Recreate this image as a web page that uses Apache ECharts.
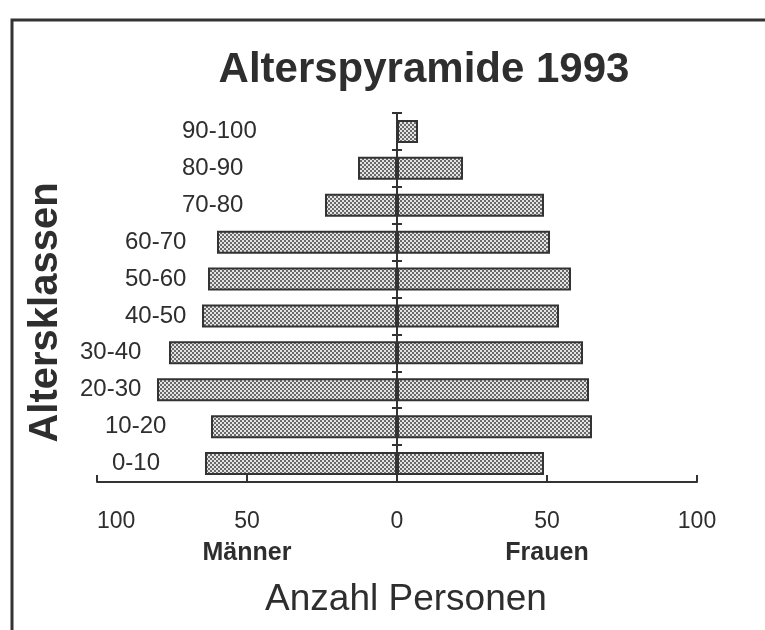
<!DOCTYPE html>
<html>
<head>
<meta charset="utf-8">
<title>Alterspyramide 1993</title>
<script src="https://cdn.jsdelivr.net/npm/echarts@6/dist/echarts.min.js"></script>
<style>
html, body { margin: 0; padding: 0; background: #fff; }
#main { width: 765px; height: 630px; }
</style>
</head>
<body>
<div id="main"></div>
<script>
// Altersklassen von unten nach oben
var altersklassen = ['0-10', '10-20', '20-30', '30-40', '40-50', '50-60', '60-70', '70-80', '80-90', '90-100'];
var maenner = [64, 62, 80, 76, 65, 63, 60, 24, 13, 0];
var frauen = [49, 65, 64, 62, 54, 58, 51, 49, 22, 7];
var seiten = ['Männer', 'Frauen'];

// Einrueckung der Klassenbeschriftung in px (reine Gestaltung)
var einzug = [32, 25, 0, 0, 45, 45, 45, 102, 102, 102];

var schrift = 'Liberation Sans';
var tinte = '#2e2e2e';

// Rasterfuellung wie im gedruckten Original
function raster() {
  var c = document.createElement('canvas');
  c.width = 4; c.height = 4;
  var ctx = c.getContext('2d');
  ctx.fillStyle = '#e4e4e4';
  ctx.fillRect(0, 0, 4, 4);
  ctx.fillStyle = '#6a6a6a';
  ctx.fillRect(0, 0, 2, 2);
  ctx.fillRect(2, 2, 2, 2);
  return c;
}
var muster = { image: raster(), repeat: 'repeat' };

var rich = {};
einzug.forEach(function (p, i) {
  rich['k' + i] = { padding: [0, 0, 0, p], fontSize: 24, fontFamily: schrift, color: tinte };
});

var linie = { color: '#333', width: 2 };

var mychart = echarts.init(document.getElementById('main'));

var option = {
  animation: false,
  title: {
    text: 'Alterspyramide 1993',
    left: 424,
    top: 49,
    padding: 0,
    textAlign: 'center',
    textStyle: { fontSize: 42, fontWeight: 'bold', color: tinte, fontFamily: schrift }
  },
  grid: { left: 97, right: 68, top: 113, bottom: 148, containLabel: false, outerBoundsMode: 'none' },
  graphic: [{
    type: 'polyline',
    shape: { points: [[12, 640], [12, 20], [770, 20]] },
    style: { stroke: '#333', lineWidth: 3, fill: null }
  }],
  xAxis: [{
    type: 'value',
    min: -100,
    max: 100,
    interval: 50,
    axisLine: { show: true, lineStyle: linie },
    axisTick: { show: true, inside: true, length: 7, lineStyle: linie },
    splitLine: { show: false },
    axisLabel: {
      margin: 28,
      fontSize: 23,
      color: tinte,
      fontFamily: schrift,
      alignMinLabel: 'left',
      formatter: function (v) { return Math.abs(v); }
    },
    name: 'Anzahl Personen',
    nameLocation: 'middle',
    nameGap: 99,
    nameTextStyle: { fontSize: 37, color: tinte, fontFamily: schrift, padding: [0, 0, 0, 18] }
  }, {
    type: 'value',
    position: 'bottom',
    min: -100,
    max: 100,
    interval: 50,
    axisLine: { show: false },
    axisTick: { show: false },
    splitLine: { show: false },
    axisLabel: {
      margin: 59,
      fontSize: 25,
      fontWeight: 'bold',
      color: tinte,
      fontFamily: schrift,
      formatter: function (v) {
        if (v === -50) return seiten[0];
        if (v === 50) return seiten[1];
        return '';
      }
    }
  }],
  yAxis: [{
    type: 'category',
    data: altersklassen,
    z: 10,
    axisLine: { onZero: true, lineStyle: linie },
    axisTick: { show: true, length: 5, lineStyle: linie },
    axisLabel: {
      interval: 0,
      margin: 17,
      align: 'left',
      formatter: function (v, i) { return '{k' + i + '|' + v + '}'; },
      rich: rich
    },
    name: 'Altersklassen',
    nameLocation: 'middle',
    nameRotate: 90,
    nameGap: 31,
    nameTextStyle: { fontSize: 40, fontWeight: 'bold', color: tinte, fontFamily: schrift, padding: [0, 30, 0, 0] }
  }, {
    type: 'category',
    data: altersklassen,
    position: 'left',
    z: 10,
    axisLine: { onZero: true, onZeroAxisIndex: 0, lineStyle: linie },
    axisTick: { show: true, inside: true, length: 5, lineStyle: linie },
    axisLabel: { show: false }
  }],
  series: [{
    name: seiten[0],
    type: 'bar',
    xAxisIndex: 0,
    yAxisIndex: 0,
    barWidth: 23,
    barGap: '-100%',
    data: maenner.map(function (v) { return -v; }),
    itemStyle: { color: muster, borderColor: '#333', borderWidth: 2 }
  }, {
    name: seiten[1],
    type: 'bar',
    xAxisIndex: 0,
    yAxisIndex: 0,
    barWidth: 23,
    barGap: '-100%',
    data: frauen,
    itemStyle: { color: muster, borderColor: '#333', borderWidth: 2 }
  }]
};

mychart.setOption(option);
</script>
</body>
</html>
